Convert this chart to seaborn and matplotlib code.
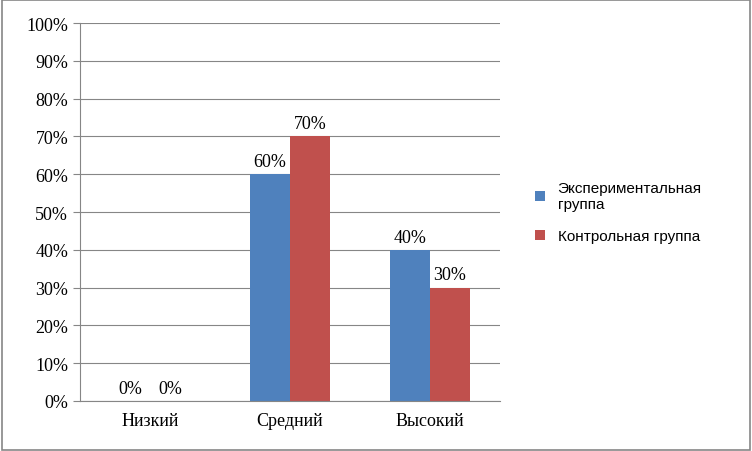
import pandas as pd
import matplotlib.pyplot as plt
import seaborn as sns

categories = ["Низкий", "Средний", "Высокий"]
series_names = ["Экспериментальная\nгруппа", "Контрольная группа"]
exp_values = [0, 60, 70 - 10]
exp_values = [0, 60, 40]
ctrl_values = [0, 70, 30]
y_ticks = list(range(0, 101, 10))

df = pd.DataFrame({
    "cat": categories * 2,
    "grp": [series_names[0]] * 3 + [series_names[1]] * 3,
    "val": exp_values + ctrl_values,
})

fig = plt.figure(figsize=(7.52, 4.52), dpi=100)
ax = fig.add_axes([80 / 752, 50 / 452, 420 / 752, 378 / 452])
sns.barplot(data=df, x="cat", y="val", hue="grp", order=categories,
            hue_order=series_names, palette=["#4F81BD", "#C0504D"],
            width=0.57, saturation=1, ax=ax, legend=True)

ax.set_ylim(0, 100)
ax.set_xlim(-0.5, 2.5)
ax.set_yticks(y_ticks)
ax.set_yticklabels([f"{t}%" for t in y_ticks], fontfamily="Liberation Serif", fontsize=13)
for lbl in ax.get_xticklabels():
    lbl.set_fontfamily("Liberation Serif")
    lbl.set_fontsize(13)
ax.set_xlabel("")
ax.set_ylabel("")
ax.grid(axis="y", color="#868686", linewidth=0.8)
ax.set_axisbelow(True)
for s in ["top", "right"]:
    ax.spines[s].set_visible(False)
ax.spines["left"].set_color("#868686")
ax.spines["bottom"].set_color("#868686")
ax.tick_params(axis="y", length=5, color="#868686")
ax.tick_params(axis="x", length=0, pad=8)

for cont in ax.containers:
    ax.bar_label(cont, labels=[f"{v:.0f}%" for v in cont.datavalues],
                 fontfamily="Liberation Serif", fontsize=13, padding=3)

leg = ax.legend(loc="center left", bbox_to_anchor=(1.05, 0.5), frameon=False,
                prop={"family": "Liberation Sans", "size": 11},
                handlelength=0.7, handleheight=0.7, labelspacing=1.2)

fig.patches.append(plt.Rectangle((0.002, 0.003), 0.995, 0.994, transform=fig.transFigure,
                                 fill=False, edgecolor="#868686", linewidth=1.2))
fig.savefig("out.png", dpi=100)
